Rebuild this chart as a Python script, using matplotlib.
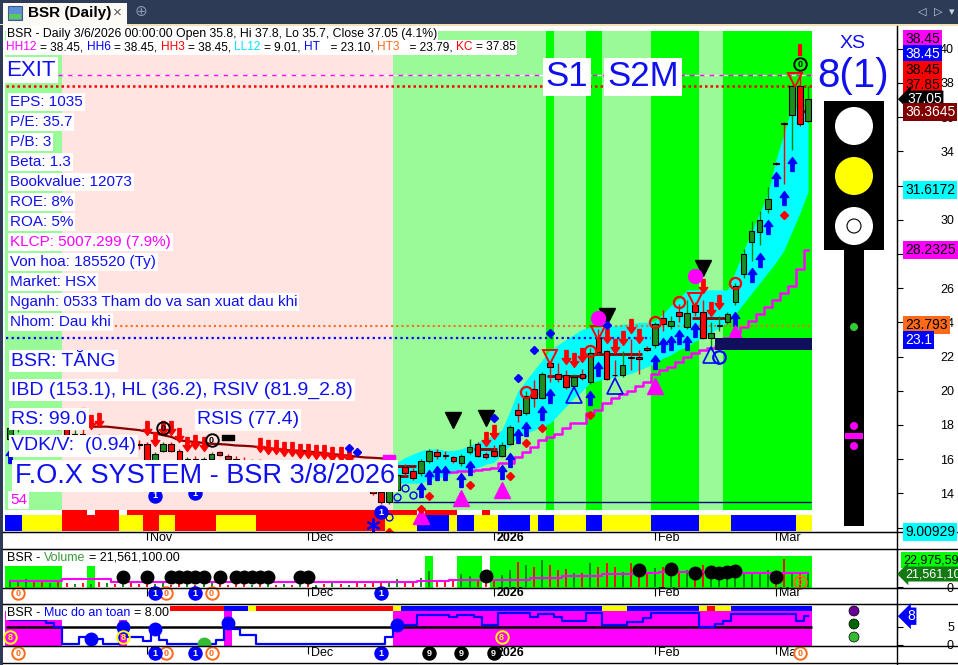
import matplotlib
matplotlib.use("Agg")
import matplotlib.pyplot as plt
import matplotlib.transforms as mtransforms
from matplotlib.patches import Rectangle, Circle
from matplotlib.path import Path
from matplotlib.offsetbox import TextArea, HPacker, AnnotationBbox
import numpy as np

plt.rcParams['font.family'] = ['Liberation Sans', 'DejaVu Sans']

# ---------------- data ----------------
opens = [17.2, 17.8, 18.1, 18.4, 18.3, 18.0, 18.2, 17.8, 17.4, 17.5,
         17.1, 17.2, 17.0, 16.9, 16.8, 17.2, 16.9, 16.9, 15.9, 16.5,
         16.9, 16.5, 15.8, 16.0, 15.9, 16.0, 16.4, 16.2, 16.0, 15.9,
         15.8, 15.9, 15.6, 15.8, 15.5, 15.7, 15.4, 15.6, 15.3, 15.5,
         15.2, 15.4, 15.1, 15.3, 14.9, 14.5, 14.1, 13.5, 14.2, 15.55,
         15.3, 15.2, 15.9, 16.4, 16.25, 16.1, 15.8, 16.4, 16.9, 16.3,
         16.5, 16.2, 16.9, 18.9, 18.7, 20.1, 19.6, 21.6, 21.0, 20.9,
         20.3, 21.0, 20.5, 23.1, 22.3, 20.95, 20.9, 22.0, 22.0, 22.5,
         22.7, 24.25, 23.8, 24.6, 23.7, 25.0, 24.6, 23.1, 23.8, 24.0,
         25.2, 26.8, 28.7, 29.3, 30.6, 33.3, 35.65, 36.1, 37.8, 35.8]
highs = [17.9, 18.3, 18.6, 18.8, 18.5, 18.4, 18.5, 17.9, 17.7, 17.8,
         17.4, 17.5, 17.3, 17.2, 17.4, 17.3, 17.1, 17.0, 16.4, 17.0,
         17.0, 16.6, 16.1, 16.2, 16.1, 16.4, 16.5, 16.3, 16.2, 16.1,
         16.0, 16.0, 15.9, 15.9, 15.8, 15.8, 15.7, 15.7, 15.6, 15.6,
         15.5, 15.5, 15.4, 15.4, 15.1, 14.7, 14.3, 14.3, 15.2, 15.7,
         15.5, 16.0, 16.6, 16.6, 16.5, 16.2, 16.3, 17.2, 17.0, 16.4,
         16.8, 17.0, 18.0, 19.3, 20.0, 20.6, 21.1, 21.7, 21.6, 21.2,
         21.0, 21.3, 22.5, 23.6, 22.4, 21.8, 22.3, 23.0, 22.4, 22.6,
         24.0, 24.7, 24.4, 25.1, 25.3, 25.2, 25.3, 24.0, 24.4, 24.6,
         26.3, 28.3, 29.9, 30.5, 31.9, 33.35, 35.7, 37.9, 38.45, 37.8]
lows = [17.0, 17.6, 17.9, 18.1, 17.9, 17.8, 17.7, 17.2, 17.1, 17.0,
        16.8, 16.9, 16.7, 16.6, 16.7, 16.8, 16.6, 15.8, 15.8, 16.4,
        16.4, 15.7, 15.6, 15.7, 15.6, 15.9, 16.2, 15.9, 15.8, 15.7,
        15.6, 15.5, 15.5, 15.4, 15.4, 15.3, 15.3, 15.2, 15.2, 15.1,
        15.0, 15.0, 14.9, 14.8, 14.4, 13.9, 13.4, 13.4, 14.1, 15.0,
        14.8, 15.0, 15.8, 16.0, 16.0, 15.8, 15.6, 16.3, 16.1, 16.0,
        16.1, 16.1, 16.8, 18.2, 18.6, 19.05, 19.5, 20.5, 20.5, 20.1,
        20.2, 20.6, 20.4, 22.1, 20.6, 20.8, 20.8, 21.2, 21.0, 22.3,
        22.5, 23.5, 23.6, 24.0, 23.6, 24.4, 23.0, 22.4, 23.5, 23.9,
        25.0, 26.6, 27.6, 28.5, 30.4, 33.2, 32.1, 34.1, 35.5, 35.7]
closes = [17.8, 18.1, 18.4, 18.3, 18.0, 18.2, 17.8, 17.4, 17.5, 17.1,
          17.2, 17.0, 17.1, 16.8, 17.2, 16.9, 16.8, 15.9, 16.3, 16.9,
          16.5, 15.8, 16.0, 15.8, 16.0, 16.3, 16.25, 16.0, 15.9, 15.8,
          15.9, 15.6, 15.8, 15.5, 15.7, 15.4, 15.6, 15.3, 15.5, 15.2,
          15.4, 15.1, 15.3, 14.9, 14.5, 14.0, 13.5, 14.2, 15.1, 15.2,
          14.9, 15.9, 16.5, 16.2, 16.2, 15.9, 16.2, 16.7, 16.2, 16.1,
          16.2, 16.8, 17.9, 18.6, 19.7, 19.6, 21.0, 21.4, 20.7, 20.2,
          20.8, 20.75, 22.2, 22.25, 20.7, 20.9, 21.5, 21.9, 21.85, 22.4,
          23.9, 23.9, 24.1, 24.4, 24.55, 24.6, 23.1, 23.4, 23.85, 24.5,
          26.1, 28.0, 29.35, 30.0, 31.2, 33.25, 35.6, 37.8, 35.6, 37.05]

# volume in millions and its average
volume = [12, 9, 14, 8, 10, 7, 9, 6, 5, 7, 5, 9, 6, 5, 8, 6, 5,
          7, 5, 6, 4, 5, 6, 4, 5, 7, 5, 4, 6, 5, 4, 5, 6, 4, 5, 4, 6,
          5, 4, 5, 6, 5, 4, 6, 5, 7, 6,
          6, 14, 8, 10, 15, 26, 10, 8, 12, 22, 18, 14, 16,
          11.6, 20, 29, 42, 36.5, 34, 45, 36.5, 29, 30, 22.7, 22.7, 40, 34,
          40, 34, 25, 40, 18, 22.7, 31, 34, 22.7, 22.7, 29, 11.6, 36.5, 34,
          31, 29, 22.7, 25, 22.7, 22.7, 28, 9, 46, 25, 25, 21.5611]
volume_ma = ([10, 10, 10.5, 10.5, 10.5, 10.2, 10, 12.8, 12.8, 12.8, 12.8, 12.8,
              12.8, 8.8, 8.8, 8.8, 8.8] + [8.8] * 10 + [8.5] * 10 + [8.0] * 10 +
             [8.2, 8.5, 8.8, 9, 9.5, 10, 10.3, 10.5, 10.8, 11, 11.2, 11.4, 11.6] +
             [11.6, 11.6, 11.6, 12.3, 12.3, 15.6, 15.6, 15.6, 15.6, 17.6, 17.6,
              18.2, 18.2, 18.2, 21, 21, 21, 22.3, 22.3, 24, 24] + [25] * 10 +
             [24] * 6 + [23, 23, 22.975591])
vol_dot_bars = [14, 17, 20, 21, 22, 23, 24, 26, 28, 29, 30, 31, 32, 36, 37,
                59, 78, 82, 85, 87, 88, 89, 90, 95]
vol_dot_vals = [16.6] * 15 + [18, 28, 29.5, 23, 25.5, 24, 24.5, 26, 16.6]

# "Muc do an toan" (safety level)
safety = ([7] * 5 + [6, 5, 0.3, 0.3, 2.2, 1.7, 1.7, 0.3, 0.3, 5, 2.2, 2.2, 1, 4.4, 1.4] +
          [0.3] * 6 + [1.4, 6, 4.4, 2.8, 2.8] + [0.3] * 16 + [2.2, 5.5, 5.5, 5.5] +
          [8.3] * 4 + [7.8, 8.3, 8.3, 7.8, 5.6, 5.6] + [8.8] * 4 +
          [7.9, 8.5, 8.5, 7.7, 6.8, 6.8, 6.8, 8.9, 8.9, 5.6, 5.6, 5.6, 6.5, 6.5, 7.4] +
          [8.9] * 6 + [5.0, 5.0, 5.7, 6.6] + [8.7] * 8 + [6.6, 8.0])

# overlays of the price pane
ribbon_start = 47
ribbon_lo = [14.6, 14.6, 14.6, 14.6, 14.6, 14.8, 14.9, 15.0, 15.2, 15.3, 15.4, 15.5,
             15.7, 15.8, 16.3, 16.8, 17.3, 17.5, 17.7, 17.9, 18.1, 18.6, 19.1, 19.6,
             20.0, 20.5, 20.6, 20.7, 20.8, 20.9, 21.0, 21.2, 21.4, 21.6, 21.9, 22.1,
             22.4, 22.6, 22.9, 23.1, 23.4, 23.7, 24.0, 24.5, 25.1, 25.7, 26.3, 26.9,
             27.5, 28.2, 29.3, 30.4, 31.6172]
ribbon_hi = [15.4, 15.8, 16.1, 16.3, 16.5, 16.6, 16.6, 16.5, 16.5, 16.6, 16.8, 17.0,
             17.2, 17.4, 17.7, 18.8, 20.0, 20.6, 21.2, 21.8, 22.4, 22.7, 23.0, 23.3,
             23.6, 23.7, 23.7, 23.8, 23.8, 23.9, 23.9, 24.0, 24.0, 24.1, 24.5, 25.0,
             25.4, 25.9, 25.9, 25.9, 25.9, 25.9, 25.9, 27.0, 28.2, 29.3, 30.4, 31.5,
             33.5, 35.0, 36.6, 36.5, 36.3645]
stop_start = 54
stop_line = [15.25, 15.25, 15.3, 15.3, 15.35, 15.4, 15.5, 15.8, 15.8, 16.1, 16.4, 16.7,
             17.1, 17.3, 17.5, 17.8, 18.1, 18.1, 18.7, 18.9, 19.3, 19.6, 19.8, 20.0,
             20.3, 20.5, 21.0, 21.2, 21.4, 21.7, 22.0, 22.2, 22.4, 22.5, 22.6, 23.1,
             23.4, 23.7, 24.1, 24.5, 24.9, 25.3, 25.7, 26.1, 27.1, 28.2325]
ma_start = 9
ma_line = [17.9, 17.9, 17.9, 17.9, 17.85, 17.8, 17.75, 17.7, 17.6, 17.5, 17.4, 17.3,
           17.1, 17.05, 17.0, 16.95, 16.9, 16.88, 16.85, 16.8, 16.78, 16.75, 16.7,
           16.65, 16.6, 16.55, 16.5, 16.5, 16.45, 16.4, 16.35, 16.3, 16.25, 16.2,
           16.15, 16.1, 16.08, 16.05, 16.0]
res_from = [48, 48, 58, 67, 72, 85, 98]
res_to = [50, 49, 60, 71, 78, 89, 99]
res_val = [15.6, 15.0, 16.6, 20.87, 22.15, 24.25, 36.3645]

HH12, HH6, HH3, LL12, HT, HT3, KC = 38.45, 38.45, 38.45, 9.00929, 23.1, 23.793, 37.85
SUPPORT = 13.5
box_lo, box_hi, box_from = 22.4, 23.1, 88

up_arrow_bars = [0, 51, 52, 53, 54, 56, 57, 61, 62, 63, 64, 66, 67, 72, 73, 80, 81,
                 82, 83, 84, 85, 90, 92, 93, 94, 95, 96, 97]
down_arrow_bars = [9, 10, 11, 17, 18, 19, 20, 21, 22, 23, 24, 31, 32, 33, 34, 35, 36,
                   37, 38, 39, 40, 41, 42, 59, 60, 69, 70, 71, 74, 75, 76, 77, 78,
                   86, 87, 88]
black_tri = ([55, 59, 74, 86], [18.3, 18.4, 24.4, 27.2])
red_vtri = ([67, 73, 85, 97.4], [22.0, 23.4, 25.3, 38.2])
red_ring = ([64, 72, 80, 83, 90], [19.9, 22.3, 24.0, 25.2, 26.3])
blue_tri = ([70, 75, 87], [19.75, 20.3, 22.1])
blue_ring = ([88], [22.0])
mag_tri = ([51, 56, 61, 80, 90], [12.7, 13.7, 14.2, 20.3, 23.4])
mag_dot = ([73, 85], [24.25, 26.7])
blue_dia = ([42, 43, 60, 63, 65, 67, 74], [16.65, 16.4, 18.4, 20.75, 22.4, 23.4, 23.85])
red_dia = ([47, 51, 52, 57, 62, 64, 66, 72, 96],
           [11.75, 13.1, 13.85, 14.5, 15.0, 16.95, 17.8, 18.6, 30.3])
small_rings = ([47, 48, 49, 50], [12.6, 13.8, 14.3, 13.9])
zero_rings = ([19, 25, 98], [17.8, 17.1, 39.1])
one_badges = ([18, 23, 46], [13.85, 14.0, 12.9])
top_tick = ([98], [39.9])

# colour strips / background states per bar (run-length)
bg_runs = [('L', 7), ('P', 41), ('L', 19), ('G', 1), ('L', 4), ('G', 2), ('L', 6),
           ('G', 6), ('L', 3), ('G', 11)]
strip_runs = [('B', 2), ('Y', 5), ('R', 7), ('Y', 3), ('R', 2), ('Y', 2), ('R', 5),
              ('Y', 5), ('R', 16), ('Y', 4), ('B', 4), ('Y', 1), ('B', 2), ('Y', 3),
              ('B', 4), ('Y', 1), ('B', 2), ('Y', 4), ('B', 2), ('Y', 6), ('B', 6),
              ('Y', 4), ('B', 8), ('Y', 2)]
strip_top_runs = [(' ', 7), ('R', 3), (' ', 1), ('R', 3), (' ', 1), ('R', 36), (' ', 1),
                  ('R', 4), (' ', 3), ('R', 1), (' ', 40)]
safety_strip_runs = [(' ', 19), ('R', 8), ('B', 3), ('Y', 1), ('R', 17), ('Y', 1),
                     ('B', 25), ('Y', 3), ('B', 9), ('Y', 1), ('R', 1), ('Y', 2), ('B', 10)]
vol_bg_runs = [('S', 7), (' ', 3), ('S', 1), (' ', 41), ('T', 1), (' ', 3), ('T', 3),
               (' ', 1), ('T', 40)]

date_bars = [17, 37, 60, 80, 95]
date_labels = ['Nov', 'Dec', '2026', 'Feb', 'Mar']

# ---------------- figure ----------------
W, H = 958, 665
fig = plt.figure(figsize=(W / 100, H / 100), dpi=100)
fig.patch.set_facecolor('white')

def px_axes(x0, y0, x1, y1):
    return fig.add_axes([x0 / W, 1 - y1 / H, (x1 - x0) / W, (y1 - y0) / H])

ax = px_axes(3, 26, 897, 532)
axv = px_axes(3, 549, 897, 588)
axm = px_axes(3, 604, 897, 646)
XL = (-0.88, 110.04)
for a in (ax, axv, axm):
    a.set_xlim(*XL)
    a.set_facecolor('white')
    a.spines['left'].set_visible(False)
    a.yaxis.tick_right()
    a.set_xticks(date_bars)
    a.tick_params(axis='x', direction='out', length=5.5, width=0.8, labelbottom=False)
    a.tick_params(axis='y', direction='out', length=4, width=0.8, pad=37, labelsize=9)
ax.spines['top'].set_visible(False)
ax.set_ylim(11.74, 41.33)
axv.set_ylim(-1.66, 63.1)
axm.set_ylim(-0.28, 11.39)
ax.set_yticks(range(12, 41, 2))
axv.set_yticks([0])
axm.set_yticks([0, 5])
for a in (ax, axv, axm):
    plt.setp(a.get_yticklabels(), ha='right')

x = np.arange(len(closes))
o, h, l, c = (np.array(v, dtype=float) for v in (opens, highs, lows, closes))
up = c > o

def expand(runs):
    return ''.join(k * n for k, n in runs)

def spans(codes):
    out, s = [], 0
    for i in range(1, len(codes) + 1):
        if i == len(codes) or codes[i] != codes[s]:
            out.append((s, i - 1, codes[s]))
            s = i
    return out

def band(a, codes, colors, y0, y1, first_left=None, z=0):
    tr = mtransforms.blended_transform_factory(a.transData, a.transAxes)
    for s, e, k in spans(codes):
        if k not in colors:
            continue
        left = s - 0.5 if (s > 0 or first_left is None) else first_left
        a.add_patch(Rectangle((left, y0), e + 0.5 - left, y1 - y0, transform=tr,
                              fc=colors[k], ec='none', lw=0, zorder=z))

def frac(ypx, top, bottom):
    return (bottom - ypx) / (bottom - top)

# ---- price pane backgrounds ----
band(ax, expand(bg_runs), {'L': '#98fb98', 'P': '#ffe4e1', 'G': '#00ff00'},
     frac(510, 26, 532), frac(31, 26, 532), first_left=-0.6)
band(ax, expand(strip_runs), {'B': '#0000ff', 'Y': '#ffff00', 'R': '#ff0000'},
     frac(531, 26, 532), frac(515, 26, 532), first_left=-0.6)
band(ax, expand(strip_top_runs), {'R': '#ff0000'}, frac(515, 26, 532), frac(510, 26, 532))

# ribbon, stop line, moving average, levels
xr = x[ribbon_start:]
ax.fill_between(xr, ribbon_lo, ribbon_hi, color='#00ffff', lw=0, zorder=1)
ax.plot(x[stop_start:], stop_line, drawstyle='steps-mid', color='#ff00ff', lw=1.8, zorder=3)
ax.plot(x[ma_start:ma_start + len(ma_line)], ma_line, color='#8b0000', lw=1.6, zorder=3)
ax.hlines(res_val, np.array(res_from) - 0.4, np.array(res_to) + 0.4, color='#8b0000',
          lw=2, zorder=3)

ax.hlines(HH12, 6, 99.5, color='#ff00ff', lw=1, ls=(0, (4, 3)), zorder=3)
ax.hlines(HH12, 6, 99.5, color='white', lw=1, ls=(4, (3, 4)), zorder=3)
ax.hlines(KC, -0.5, 99.5, color='#ff0000', lw=1.8, ls=(0, (1, 1.2)), zorder=3)
ax.hlines(HT3, 13, 99.5, color='#ff6a1a', lw=1.5, ls=(0, (1, 1.5)), zorder=3)
ax.hlines(HT, -0.5, 79.5, color='#0000ff', lw=1.6, ls=(0, (1, 1.5)), zorder=3)
ax.hlines(SUPPORT, 47.5, 99.4, color='#000080', lw=1, zorder=3)
ax.add_patch(Rectangle((box_from - 0.5, box_lo), 99.5 - box_from + 0.5, box_hi - box_lo,
                       fc='#0f0f5c', ec='none', zorder=7))

# candles
ax.vlines(x, l, h, colors=np.where(up, '#008000', '#ff0000'), lw=1, zorder=4)
ax.bar(x, c - o, bottom=o, width=0.7, color=np.where(up, '#1e8c1e', '#ff0000'),
       edgecolor='black', lw=0.8, zorder=5)

# signal markers
verts = [(0, 1), (0.62, 0.15), (0.24, 0.15), (0.24, -1), (-0.24, -1), (-0.24, 0.15),
         (-0.62, 0.15), (0, 1)]
arrow_up = Path(verts, closed=True)
arrow_dn = Path([(vx, -vy) for vx, vy in verts], closed=True)
bar_mark = Path([(-1, -0.4), (1, -0.4), (1, 0.4), (-1, 0.4), (-1, -0.4)], closed=True)

ub = np.array(up_arrow_bars)
db = np.array(down_arrow_bars)
ax.plot(ub, l[ub] - 0.83, ls='none', marker=arrow_up, ms=10, color='#0000ff', zorder=6)
ax.plot(db, h[db] + 0.8, ls='none', marker=arrow_dn, ms=10, color='#ff0000', zorder=6)
ax.plot(*top_tick, ls='none', marker='|', ms=8, mew=3, color='#ff0000', zorder=6)
ax.plot(*black_tri, ls='none', marker='v', ms=11, color='black', zorder=6)
ax.plot(*red_vtri, ls='none', marker='v', ms=10, mfc='none', mec='#ff0000', mew=1.4, zorder=6)
ax.plot(*red_ring, ls='none', marker='o', ms=8, mfc='none', mec='#ff0000', mew=1.6, zorder=6)
ax.plot(*blue_tri, ls='none', marker='^', ms=11, mfc='none', mec='#0000ff', mew=1.2, zorder=6)
ax.plot(*blue_ring, ls='none', marker='o', ms=9, mfc='none', mec='#0000ff', mew=1.6, zorder=6)
ax.plot(*mag_tri, ls='none', marker='^', ms=12, color='#ff00ff', zorder=6)
ax.plot(*mag_dot, ls='none', marker='o', ms=10, color='#ff00ff', zorder=6)
ax.plot(*blue_dia, ls='none', marker='D', ms=4.5, color='#0000ff', zorder=6)
ax.plot(*red_dia, ls='none', marker='D', ms=4.5, color='#ff0000', zorder=6)
ax.plot(*small_rings, ls='none', marker='o', ms=5, mfc='none', mec='#0000ff', mew=1, zorder=6)
ax.plot([27], [17.3], ls='none', marker=bar_mark, ms=9, color='black', zorder=6)
ax.plot([47], [16.15], ls='none', marker=bar_mark, ms=9, color='#ff00ff', zorder=6)
ax.plot([45], [12.15], ls='none', marker=(6, 2, 0), ms=10, mew=1.5, color='#0000ff', zorder=6)

def badge(a, bx, by, ch, fc, ec, tc, tr=None, ms=9):
    tr = tr or a.transData
    a.plot([bx], [by], 'o', ms=ms, mfc=fc, mec=ec, mew=1.4, transform=tr,
           clip_on=False, zorder=8)
    a.text(bx, by, ch, transform=tr, color=tc, fontsize=6.5, fontweight='bold',
           ha='center', va='center', clip_on=False, zorder=9)

for bx, by in zip(*zero_rings):
    badge(ax, bx, by, '0', 'none', 'black', 'black')
for bx, by in zip(*one_badges):
    badge(ax, bx, by, '1', '#0000ff', '#0000ff', 'white')

# ---- volume pane ----
band(axv, expand(vol_bg_runs), {'S': '#00ff00'}, 0, frac(566, 549, 588), first_left=-0.6)
band(axv, expand(vol_bg_runs), {'T': '#00ff00'}, 0, frac(556, 549, 588))
axv.vlines(x, 0, volume, colors=np.where(up, '#008000', '#ff0000'), lw=1.3, zorder=3)
axv.plot(x, volume_ma, drawstyle='steps-mid', color='#ff00ff', lw=1.5, zorder=4)
axv.plot(vol_dot_bars, vol_dot_vals, ls='none', marker='o', ms=9, color='black', zorder=5)

# ---- safety pane ----
sv = np.array(safety)
safe_codes = ''.join('M' if v >= 5 else ' ' for v in sv)
band(axm, safe_codes, {'M': '#ff00ff'}, 0, frac(611, 604, 646), first_left=-0.6)
band(axm, expand(safety_strip_runs), {'B': '#0000ff', 'Y': '#ffff00', 'R': '#ff0000'},
     frac(611, 604, 646), frac(606, 604, 646))
axm.hlines(5, -0.5, 99.5, color='black', lw=1.8, zorder=3)
axm.plot(x, sv, drawstyle='steps-mid', color='#0000ff', lw=1.6, zorder=4)
for bx in [10, 14, 18, 27, 48]:
    axm.plot([bx], [sv[bx]], 'o', ms=9, color='#0000ff', zorder=5)
axm.plot([24], [sv[24]], 'o', ms=9, color='#33bb33', zorder=5)
for bx in [0, 14, 61]:
    badge(axm, bx, 2.2, '8', 'none', '#ffff00', '#ffff00')

# badges under the volume / safety panes
for a, yf in ((axv, -0.13), (axm, -0.17)):
    tr = mtransforms.blended_transform_factory(a.transData, a.transAxes)
    for bx in [1, 19.4, 25]:
        badge(a, bx, yf, '0', 'white', '#ff6a1a', '#ff6a1a', tr)
    for bx in [18, 23, 46]:
        badge(a, bx, yf, '1', '#0000ff', '#0000ff', 'white', tr)
trm = mtransforms.blended_transform_factory(axm.transData, axm.transAxes)
for bx in [52, 56, 60]:
    badge(axm, bx, -0.17, '9', 'black', 'black', 'white', trm)
badge(axm, 98, -0.17, '0', 'white', '#ff6a1a', '#ff6a1a', trm)
badge(axv, 98, 8.3, '0', 'none', '#ff6a1a', '#ff6a1a')

# date labels
for a, yf in ((ax, 0.0), (axv, 0.03), (axm, -0.02)):
    tr = mtransforms.blended_transform_factory(a.transData, a.transAxes)
    for b, lab in zip(date_bars, date_labels):
        a.text(b + 0.35, yf, lab, transform=tr, ha='left', va='top', fontsize=9,
               fontweight='bold' if lab == '2026' else 'normal', zorder=2)

# ---------------- overlay in pixel coordinates ----------------
ov = fig.add_axes([0, 0, 1, 1], zorder=10)
ov.set_xlim(0, W)
ov.set_ylim(H, 0)
ov.axis('off')
ov.patch.set_alpha(0)

def py(a, v):
    return H - a.transData.transform((0, v))[1]

# window chrome
ov.add_patch(Rectangle((0, 0), W, 25, fc='#2d3b57', ec='none'))
ov.add_patch(Rectangle((0, 24), W, 2, fc='#f6e2b0', ec='none'))
ov.add_patch(Rectangle((0, 25), 3, H, fc='#2d3b57', ec='none'))
ov.add_patch(Rectangle((3, 3), 124, 23, fc='#fcfaf4', ec='none'))
ov.add_patch(Rectangle((8, 6), 14, 14, fc='#5b8fd6', ec='#3c5a8a', lw=0.8))
ov.add_patch(Rectangle((9, 14), 12, 5, fc='#5cc85c', ec='none'))
ov.text(28, 13, 'BSR (Daily)', fontsize=11, fontweight='bold', va='center', color='black')
ov.text(117, 12.5, '×', fontsize=11, va='center', ha='center', color='#555555')
ov.text(141, 12, '⊕', fontsize=11, va='center', ha='center', color='#8a96ad')
for tx, s in ((922, '◁'), (938, '▷'), (952, '▾')):
    ov.text(tx, 12, s, fontsize=8, va='center', ha='center', color='#c9d1dd')

# frame lines
ov.plot([897, 897], [26, H], color='black', lw=1)
for yy in (532, 549, 588, 604, 646, 663):
    ov.plot([3, W], [yy, yy], color='black', lw=1)

# header lines
ov.text(7, 33.5, 'BSR - Daily 3/6/2026 00:00:00 Open 35.8, Hi 37.8, Lo 35.7, '
        'Close 37.05 (4.1%)', fontsize=8.8, va='center', color='black',
        bbox=dict(fc='white', ec='none', boxstyle='square,pad=0.1'))

def packed(pieces, size, sep):
    return HPacker(children=[TextArea(s, textprops=dict(color=col, fontsize=size))
                             for s, col in pieces], align='baseline', pad=0, sep=sep)

hdr = [('HH12', '#ff00ff'), (f'= {HH12:.2f},', 'black'), ('HH6', '#0000ff'),
       (f'= {HH6:.2f},', 'black'), ('HH3', '#ff0000'), (f'= {HH3:.2f},', 'black'),
       ('LL12', '#00e5ff'), (f'= {LL12:.2f},', 'black'), ('HT', '#0000ff'),
       (f'  = {HT:.2f},', 'black'), ('HT3', '#ff6a1a'), (f'  = {HT3:.2f},', 'black'),
       ('KC', '#ff0000'), (f'= {KC:.2f}', 'black')]
ov.add_artist(AnnotationBbox(packed(hdr, 8.6, 2.5), (6, 47.5), xycoords='data',
                             box_alignment=(0, 0.5), pad=0.1, frameon=True,
                             bboxprops=dict(fc='white', ec='none')))

blue = '#1010ee'
wbox = dict(fc='white', ec='none', boxstyle='square,pad=0.12')
ov.text(6, 70, 'EXIT', fontsize=16, color=blue, va='center', bbox=wbox)
info = ['EPS: 1035', 'P/E: 35.7', 'P/B: 3', 'Beta: 1.3', 'Bookvalue: 12073', 'ROE: 8%',
        'ROA: 5%', 'KLCP: 5007.299 (7.9%)', 'Von hoa: 185520 (Ty)', 'Market: HSX',
        'Nganh: 0533 Tham do va san xuat dau khi', 'Nhom: Dau khi']
for k, s in enumerate(info):
    ov.text(10, 102 + 20 * k, s, fontsize=11, va='center',
            color='#ff00ff' if s.startswith('KLCP') else blue, bbox=wbox)
ov.text(11, 361, 'BSR: TĂNG', fontsize=14, color=blue, va='center', bbox=wbox)
ov.text(11, 390, 'IBD (153.1), HL (36.2), RSIV (81.9_2.8)', fontsize=14, color=blue,
        va='center', bbox=wbox)
ov.text(11, 419, 'RS: 99.0', fontsize=14, color=blue, va='center', bbox=wbox)
ov.text(197, 420, 'RSIS (77.4)', fontsize=14, color=blue, va='center', bbox=wbox)
ov.text(11, 446, 'VDK/V:  (0.94)', fontsize=14, color=blue, va='center', bbox=wbox)
ov.text(15, 476, 'F.O.X SYSTEM - BSR 3/8/2026', fontsize=19.5, color=blue, va='center',
        bbox=wbox)
ov.text(10, 500, '54', fontsize=11, color='#ff00ff', va='center', bbox=wbox)
ov.text(567, 77, 'S1', fontsize=25, color=blue, va='center', ha='center',
        bbox=dict(fc='white', ec='none', boxstyle='square,pad=0.08'))
ov.text(643, 77, 'S2M', fontsize=25, color=blue, va='center', ha='center',
        bbox=dict(fc='white', ec='none', boxstyle='square,pad=0.08'))

# traffic light panel
ov.text(853, 44, 'XS', fontsize=14, color=blue, ha='center', va='center')
ov.text(853, 76, '8(1)', fontsize=29, color=blue, ha='center', va='center')
ov.add_patch(Rectangle((824, 101), 60, 149, fc='black', ec='none'))
ov.add_patch(Rectangle((844, 249), 20, 277, fc='black', ec='none'))
ov.add_patch(Circle((854, 126), 19, fc='white', ec='none'))
ov.add_patch(Circle((854, 176), 19, fc='#ffff00', ec='none'))
ov.add_patch(Circle((854, 226), 19, fc='white', ec='none'))
ov.add_patch(Circle((854, 226), 7, fc='none', ec='black', lw=0.8))
ov.add_patch(Circle((854, 327), 4, fc='#33cc33', ec='none'))
ov.add_patch(Circle((854, 426), 4, fc='#ff00ff', ec='none'))
ov.add_patch(Circle((854, 446), 4, fc='#ff00ff', ec='none'))
ov.add_patch(Rectangle((845, 433), 18, 6, fc='#ff00ff', ec='none'))
for yy, col in ((611, '#660099'), (624, '#006600'), (637, '#33bb33')):
    ov.add_patch(Circle((854, yy), 5, fc=col, ec='black', lw=0.5))

# value tags on the right axis
def tag(a, v, text, bg, fg, dy=0, arrow=False, ymax=None, size=10, x0=905):
    yy = py(a, v) + dy
    if ymax is not None:
        yy = min(yy, ymax)
    style = 'larrow,pad=0.12' if arrow else 'square,pad=0.15'
    ov.text(x0 + 2 if arrow else x0, yy, text, fontsize=size, color=fg, va='center',
            ha='left', bbox=dict(fc=bg, ec='none', boxstyle=style), zorder=12)

tag(ax, HH12, f'{HH12:g}', '#ff00ff', 'black', dy=-36)
tag(ax, HH6, f'{HH6:g}', '#0000ff', 'white', dy=-21)
tag(ax, HH3, f'{HH3:g}', '#ff0000', 'black', dy=-5)
tag(ax, KC, f'{KC:g}', '#ff0000', 'black', dy=-1)
tag(ax, closes[-1], f'{closes[-1]:g}', 'black', 'white', arrow=True)
tag(ax, res_val[-1], f'{res_val[-1]:g}', '#800000', 'white', dy=1.5)
tag(ax, ribbon_lo[-1], f'{ribbon_lo[-1]:g}', '#00ffff', 'black', dy=-2)
tag(ax, stop_line[-1], f'{stop_line[-1]:g}', '#ff00ff', 'black')
tag(ax, HT3, f'{HT3:g}', '#ff6a1a', 'black', dy=-1)
tag(ax, HT, f'{HT:g}', '#0000ff', 'white', dy=2.5)
tag(ax, LL12, f'{LL12:g}', '#00ffff', 'black', ymax=532)
tag(axv, volume_ma[-1], '22,975,59', '#00ff00', 'black', dy=-13, size=9, x0=903)
tag(axv, volume[-1], '21,561,10', '#137a13', 'white', arrow=True, size=9, x0=903)
tag(axm, safety[-1], f'{safety[-1]:g}', '#0000ff', 'white', arrow=True)

# pane titles
ov.add_artist(AnnotationBbox(packed([('BSR -', 'black'), ('Volume', '#3c9a3c'),
                                     ('= 21,561,100.00', 'black')], 9, 2.5),
                             (7, 558), xycoords='data', box_alignment=(0, 0.5),
                             frameon=False, pad=0))
ov.add_artist(AnnotationBbox(packed([('BSR -', 'black'), ('Muc do an toan', '#0000ff'),
                                     ('= 8.00', 'black')], 9, 2.5),
                             (7, 613), xycoords='data', box_alignment=(0, 0.5),
                             frameon=True, pad=0.1, bboxprops=dict(fc='white', ec='none')))

fig.savefig('out.png', dpi=100)
